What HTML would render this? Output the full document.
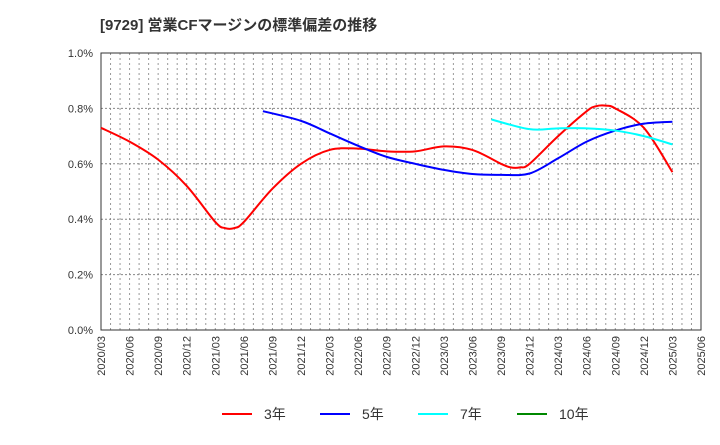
<!DOCTYPE html>
<html><head><meta charset="utf-8"><style>
body{margin:0;background:#fff;font-family:"Liberation Sans","Noto Sans CJK JP",sans-serif}
</style></head><body>
<svg id="c" width="720" height="440" xmlns="http://www.w3.org/2000/svg">
<text x="100" y="30" font-size="15" font-weight="bold" fill="#333" font-family="Liberation Sans,Noto Sans CJK JP,sans-serif">[9729]  営業CFマージンの標準偏差の推移</text>
<g id="grid"></g><g id="axes"></g><g id="series"></g><g id="legend"></g>
</svg>
<script>
const xLabels=["2020/03","2020/06","2020/09","2020/12","2021/03","2021/06","2021/09","2021/12","2022/03","2022/06","2022/09","2022/12","2023/03","2023/06","2023/09","2023/12","2024/03","2024/06","2024/09","2024/12","2025/03","2025/06"];
const yTicks=[0,0.2,0.4,0.6,0.8,1.0];
const s3m=[0,3,6,9,12,13,14,15,18,21,24,27,30,33,36,39,42,43,44,45,48,51,52,53,54,57,60];
const s3v=[0.73,0.68,0.615,0.52,0.39,0.368,0.368,0.39,0.51,0.60,0.65,0.655,0.645,0.645,0.663,0.65,0.60,0.587,0.587,0.60,0.70,0.79,0.808,0.81,0.80,0.73,0.57];
const s5m=[17,21,24,27,30,33,36,39,42,45,48,51,54,57,60];
const s5v=[0.79,0.755,0.71,0.665,0.625,0.60,0.578,0.563,0.56,0.565,0.62,0.68,0.72,0.745,0.752];
const s7m=[41,45,48,51,54,57,60];
const s7v=[0.76,0.725,0.728,0.728,0.72,0.70,0.67];
const L=101,R=701,T=53,B=330,NS="http://www.w3.org/2000/svg";
const xs=m=>L+m*(R-L)/63, ys=v=>B-v/1.0*(B-T);
function mk(p,t,a){const e=document.createElementNS(NS,t);for(const k in a)e.setAttribute(k,a[k]);p.appendChild(e);return e;}
const g=document.getElementById('grid'),ax=document.getElementById('axes'),se=document.getElementById('series'),lg=document.getElementById('legend');
for(let m=1;m<63;m++){const l=mk(g,'line',{x1:xs(m),x2:xs(m),y1:T,y2:B,stroke:'#999','stroke-dasharray':'2,3','stroke-width':1});

}
yTicks.forEach(v=>{if(v>0&&v<1){const l=mk(g,'line',{x1:L,x2:R,y1:ys(v),y2:ys(v),stroke:'#888','stroke-dasharray':'2,2'});

}
const t=mk(ax,'text',{x:L-8,y:ys(v)+4,'text-anchor':'end','font-size':11,fill:'#333'});t.textContent=v.toFixed(1)+'%';

});
const fr=mk(ax,'rect',{x:L,y:T,width:R-L,height:B-T,fill:'none',stroke:'#333'});


xLabels.forEach((s,i)=>{const x=xs(i*3);const t=mk(ax,'text',{x:x+4,y:B+6,'text-anchor':'end','font-size':11,fill:'#333',transform:`rotate(-90 ${x+4} ${B+6})`});t.textContent=s;

});
function path(ms,vs){const P=ms.map((m,i)=>[xs(m),ys(vs[i])]);let d=`M${P[0][0]},${P[0][1]}`;
for(let i=0;i<P.length-1;i++){const p0=P[i-1]||P[i],p1=P[i],p2=P[i+1],p3=P[i+2]||P[i+1];
d+=` C${p1[0]+(p2[0]-p0[0])/6},${p1[1]+(p2[1]-p0[1])/6} ${p2[0]-(p3[0]-p1[0])/6},${p2[1]-(p3[1]-p1[1])/6} ${p2[0]},${p2[1]}`;}return d;}
[[s3m,s3v,'#f00','series-3y'],[s5m,s5v,'#00f','series-5y'],[s7m,s7v,'#0ff','series-7y']].forEach(([m,v,c,n])=>{
const p=mk(se,'path',{d:path(m,v),fill:'none',stroke:c,'stroke-width':2});

});
[['3年','#f00',222],['5年','#00f',320],['7年','#0ff',418],['10年','#080',517]].forEach(([s,c,x])=>{
const l=mk(lg,'line',{x1:x,x2:x+30,y1:414,y2:414,stroke:c,'stroke-width':2});


const t=mk(lg,'text',{x:x+42,y:419,'font-size':14,fill:'#333'});t.textContent=s;

});
</script>
</body></html>
